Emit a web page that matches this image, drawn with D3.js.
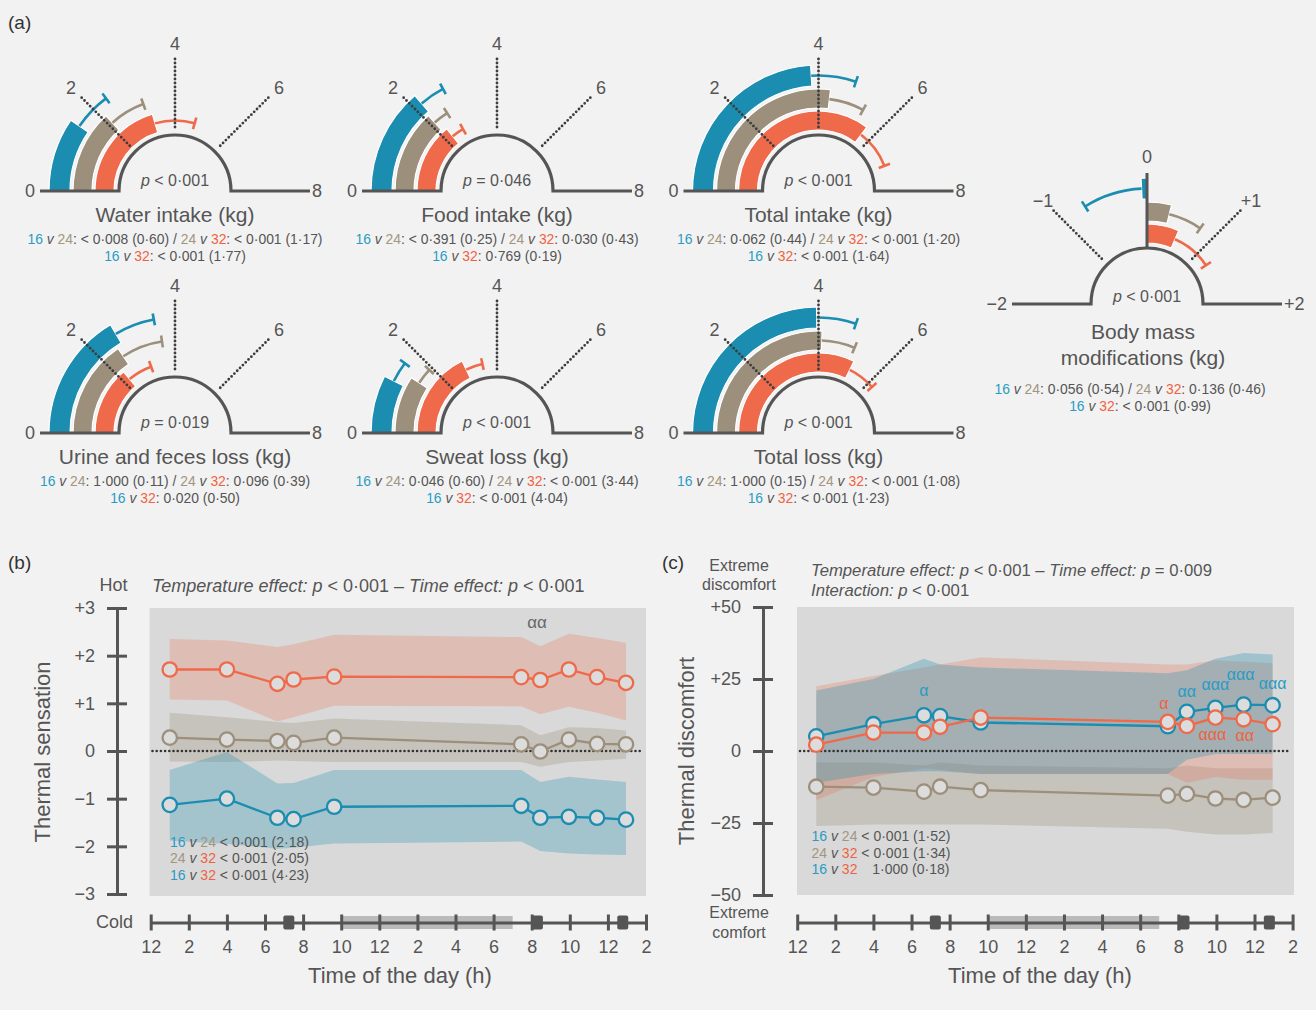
<!DOCTYPE html>
<html><head><meta charset="utf-8">
<script src="https://cdn.jsdelivr.net/npm/d3@7"></script>
<style>
body{margin:0;background:#f2f2f2;}
svg{display:block;font-family:"Liberation Sans",Arial,Helvetica,sans-serif;}
</style></head><body>
<svg id="chart" width="1316" height="1010"></svg>
<script>
// ---------------- DATA ----------------
const gaugeTitles = ["Water intake (kg)","Food intake (kg)","Total intake (kg)","Urine and feces loss (kg)","Sweat loss (kg)","Total loss (kg)"];
const gaugeP = [["<","0·001"],["=","0·046"],["<","0·001"],["=","0·019"],["<","0·001"],["<","0·001"]];
const mean16 = [1.52, 2.19, 3.84, 2.63, 1.19, 3.96];
const sd16   = [0.85, 0.57, 1.00, 0.90, 0.46, 0.88];
const mean24 = [2.11, 2.12, 4.30, 2.49, 1.46, 4.09];
const sd24   = [1.00, 0.43, 0.98, 1.15, 0.45, 0.93];
const mean32 = [3.27, 2.27, 5.65, 2.22, 2.85, 5.17];
const sd32   = [1.45, 0.45, 1.42, 0.90, 0.62, 1.02];
const stat16v24 = ["< 0·008 (0·60)","< 0·391 (0·25)","0·062 (0·44)","1·000 (0·11)","0·046 (0·60)","1·000 (0·15)"];
const stat24v32 = ["< 0·001 (1·17)","0·030 (0·43)","< 0·001 (1·20)","0·096 (0·39)","< 0·001 (3·44)","< 0·001 (1·08)"];
const stat16v32 = ["< 0·001 (1·77)","0·769 (0·19)","< 0·001 (1·64)","0·020 (0·50)","< 0·001 (4·04)","< 0·001 (1·23)"];
const gaugeTicks = [0,2,4,6,8];
const gaugeTickLabels = ["0","2","4","6","8"];

const bodyMean = [-0.06, 0.31, 0.52];
const bodySd   = [0.66, 0.47, 0.74];
const bodyTicks = [-2,-1,0,1,2];
const bodyTickLabels = ["−2","−1","0","+1","+2"];
const bodyStats = ["0·056 (0·54)","0·136 (0·46)","< 0·001 (0·99)"];

const timeH = [1, 4, 6.65, 7.5, 9.63, 19.45, 20.45, 21.95, 23.43, 24.95];
const timeTicks = [0,2,4,6,8,10,12,14,16,18,20,22,24,26];
const timeTickLabels = ["12","2","4","6","8","10","12","2","4","6","8","10","12","2"];
const meals = [7.25, 20.3, 24.78];
const night = [10, 19];

const sens16   = [-1.13,-1.00,-1.40,-1.43,-1.17,-1.15,-1.40,-1.38,-1.40,-1.44];
const sens16lo = [-1.88,-1.95,-2.05,-2.03,-1.94,-1.90,-2.10,-2.15,-2.17,-2.18];
const sens16hi = [-0.40,-0.02,-0.68,-0.67,-0.40,-0.40,-0.65,-0.54,-0.60,-0.65];
const sens24   = [0.28,0.24,0.21,0.17,0.28,0.14,-0.01,0.24,0.15,0.14];
const sens24lo = [-0.22,-0.23,-0.20,-0.21,-0.23,-0.23,-0.33,-0.23,-0.20,-0.16];
const sens24hi = [0.80,0.71,0.61,0.59,0.68,0.54,0.33,0.50,0.48,0.43];
const sens32   = [1.71,1.71,1.41,1.50,1.56,1.55,1.49,1.71,1.55,1.43];
const sens32lo = [1.08,1.06,0.62,0.71,0.95,0.94,0.77,0.93,0.80,0.64];
const sens32hi = [2.35,2.32,2.18,2.24,2.44,2.39,2.20,2.46,2.37,2.27];
const sensTicks = [3,2,1,0,-1,-2,-3];
const sensTickLabels = ["+3","+2","+1","0","−1","−2","−3"];
const sensStats = [["16","24","< 0·001 (2·18)"],["24","32","< 0·001 (2·05)"],["16","32","< 0·001 (4·23)"]];

const disc16   = [5.1,9.3,12.4,12.1,9.9,8.6,13.6,15.0,16.1,15.9];
const disc16lo = [-11,-8,-7,-7,-8,-8,-3,-1,-1,-1];
const disc16hi = [21,25,32,30,29,27,28,32,34,33.5];
const disc24   = [-12.4,-12.7,-14.1,-12.4,-13.6,-15.5,-14.9,-16.5,-17.0,-16.2];
const disc24lo = [-26,-25.5,-25.5,-25.5,-25.5,-27,-28,-29,-29,-28.5];
const disc24hi = [-4,-4,-5,-4,-5,-6,-5,-6,-6,-6];
const disc32   = [2.2,6.4,6.4,8.4,11.6,10.1,8.7,11.6,11.0,9.3];
const disc32lo = [-17,-9,-6,-6.5,-8,-8,-11,-9,-10,-10];
const disc32hi = [22.5,26,29,30,32.5,30,30,31.5,31,30.5];
const discTicks = [50,25,0,-25,-50];
const discTickLabels = ["+50","+25","0","−25","−50"];
const discStats = [["16","24","< 0·001 (1·52)"],["24","32","< 0·001 (1·34)"],["16","32","1·000 (0·18)"]];
const discAlphaBlue = [[2,"α"],[6,"αα"],[7,"ααα"],[8,"ααα"],[9,"ααα"]];
const discAlphaOrange = [[5,"α"]];
const discAlphaOrangeBelow = [[7,"ααα"],[8,"αα"]];

// ---------------- STYLE ----------------
const COL = {b:"#1a8db0", t:"#9c8f7b", o:"#ee6a4b"};
const TXT = {b:"#2a9bc3", t:"#a3957f", o:"#f0623f", g:"#555555"};
const FONT = '"Liberation Sans",Arial,Helvetica,sans-serif';
const svg = d3.select("#chart");
svg.append("rect").attr("width",1316).attr("height",1010).attr("fill","#f2f2f2");

function richText(g, x, y, parts, size, anchor){
  const t = g.append("text").attr("x",x).attr("y",y).attr("font-size",size)
    .attr("text-anchor",anchor||"middle").attr("fill",TXT.g).style("white-space","pre");
  parts.forEach(p=>{
    const s = t.append("tspan").text(p[0]);
    if(p[1]) s.attr("fill",p[1]);
    if(p[2]) s.attr("font-style","italic");
    if(p[3]) s.attr("dx",p[3]);
  });
  return t;
}
function pairParts(a,b){
  const c = {"16":TXT.b,"24":TXT.t,"32":TXT.o};
  return [[a,c[a]],[" "],["v",null,1],[" "],[b,c[b]]];
}

// ---------------- GAUGES ----------------
const bandR = [[105,126],[83,102],[61,80]];
const gaugeCols = [COL.b, COL.t, COL.o];
function gauge(cx, cy, domain, base, means, sds, ticks, labels, solidTick){
  const g = svg.append("g").attr("transform",`translate(${cx},${cy})`);
  const a = d3.scaleLinear().domain(domain).range([-Math.PI/2, Math.PI/2]);
  const arc = d3.arc();
  means.forEach((m,i)=>{
    const [r0,r1] = bandR[i], rm = (r0+r1)/2;
    g.append("path").attr("d",arc({innerRadius:r0,outerRadius:r1,startAngle:a(base),endAngle:a(m)}))
      .attr("fill",gaugeCols[i]).attr("stroke","#fff").attr("stroke-width",1.2);
    const e = m >= base ? m + sds[i] : m - sds[i];
    g.append("path").attr("d",arc({innerRadius:rm-1.3,outerRadius:rm+1.3,startAngle:a(m),endAngle:a(e)}))
      .attr("fill",gaugeCols[i]);
    const ang = a(e);
    g.append("line").attr("x1",(rm-6)*Math.sin(ang)).attr("y1",-(rm-6)*Math.cos(ang))
      .attr("x2",(rm+6)*Math.sin(ang)).attr("y2",-(rm+6)*Math.cos(ang))
      .attr("stroke",gaugeCols[i]).attr("stroke-width",2.6);
  });
  ticks.forEach((v,k)=>{
    const ang = a(v);
    const first = v===domain[0], last = v===domain[1];
    if(!first && !last){
      const solid = v===solidTick;
      const r0 = solid?57:64, r1 = solid?131:133;
      g.append("line").attr("x1",r0*Math.sin(ang)).attr("y1",-r0*Math.cos(ang))
        .attr("x2",r1*Math.sin(ang)).attr("y2",-r1*Math.cos(ang))
        .attr("stroke",solid?"#555":"#3d3d3d").attr("stroke-width",solid?3:2.8)
        .attr("stroke-dasharray",solid?null:"0,4").attr("stroke-linecap",solid?"butt":"round");
      const r = 147;
      g.append("text").attr("x",r*Math.sin(ang)).attr("y",-r*Math.cos(ang)).attr("dy","0.36em")
        .attr("text-anchor","middle").attr("font-size",18).attr("fill",TXT.g).text(labels[k]);
    } else {
      g.append("text").attr("x",first?-140:137).attr("y",0).attr("dy","0.36em")
        .attr("text-anchor",first?"end":"start").attr("font-size",18).attr("fill",TXT.g).text(labels[k]);
    }
  });
  g.append("path").attr("d","M-135,0H-56A56,56 0 0 1 56,0H135")
    .attr("fill","none").attr("stroke","#555").attr("stroke-width",3.2);
  return g;
}

const gaugePos = [[175,191],[497,191],[818.5,191],[175,433],[497,433],[818.5,433]];
gaugeTitles.forEach((title,i)=>{
  const [cx,cy] = gaugePos[i];
  gauge(cx,cy,[0,8],0,[mean16[i],mean24[i],mean32[i]],[sd16[i],sd24[i],sd32[i]],gaugeTicks,gaugeTickLabels,null);
  richText(svg,cx,cy-5,[["p",null,1],[" "+gaugeP[i][0]+" "+gaugeP[i][1]]],16);
  svg.append("text").attr("x",cx).attr("y",cy+31).attr("text-anchor","middle").attr("font-size",21)
    .attr("fill",TXT.g).text(title);
  richText(svg,cx,cy+53,[...pairParts("16","24"),[": "+stat16v24[i]+" / "],...pairParts("24","32"),[": "+stat24v32[i]]],13.9);
  richText(svg,cx,cy+70,[...pairParts("16","32"),[": "+stat16v32[i]]],13.9);
});
// body mass
gauge(1147,304,[-2,2],0,bodyMean,bodySd,bodyTicks,bodyTickLabels,0);
richText(svg,1147,302,[["p",null,1],[" < 0·001"]],16);
svg.append("text").attr("x",1143).attr("y",339).attr("text-anchor","middle").attr("font-size",21).attr("fill",TXT.g).text("Body mass");
svg.append("text").attr("x",1143).attr("y",364.5).attr("text-anchor","middle").attr("font-size",21).attr("fill",TXT.g).text("modifications (kg)");
richText(svg,1130,394,[...pairParts("16","24"),[": "+bodyStats[0]+" / "],...pairParts("24","32"),[": "+bodyStats[1]]],13.9);
richText(svg,1140,411,[...pairParts("16","32"),[": "+bodyStats[2]]],13.9);

// panel labels
[["(a)",8,29],["(b)",8,569],["(c)",662,569]].forEach(d=>{
  svg.append("text").attr("x",d[1]).attr("y",d[2]).attr("font-size",19).attr("fill","#333").text(d[0]);
});

// ---------------- LINE CHARTS ----------------
function lineChart(cfg){
  const x = d3.scaleLinear().domain([0,26]).range(cfg.xr);
  const y = d3.scaleLinear().domain(cfg.yd).range(cfg.yr);
  const g = svg.append("g");
  g.append("rect").attr("x",cfg.rect[0]).attr("y",cfg.rect[1]).attr("width",cfg.rect[2]).attr("height",cfg.rect[3]).attr("fill","#d9d9d9");
  const area = d3.area().x((d,i)=>x(timeH[i])).y0(d=>y(d[0])).y1(d=>y(d[1]));
  cfg.bands.forEach(b=>{
    g.append("path").attr("d",area(b.lo.map((v,i)=>[v,b.hi[i]]))).attr("fill",b.col).attr("fill-opacity",b.op);
  });
  g.append("line").attr("x1",cfg.rect[0]+3).attr("x2",cfg.rect[0]+cfg.rect[2]-3).attr("y1",y(0)).attr("y2",y(0))
    .attr("stroke","#333").attr("stroke-width",2.6).attr("stroke-dasharray","0,4.2").attr("stroke-linecap","round");
  const line = d3.line().x((d,i)=>x(timeH[i])).y(d=>y(d));
  cfg.series.forEach(s=>{
    g.append("path").attr("d",line(s.v)).attr("fill","none").attr("stroke",s.col).attr("stroke-width",2.3);
    g.selectAll(null).data(s.v).join("circle").attr("cx",(d,i)=>x(timeH[i])).attr("cy",d=>y(d)).attr("r",7.2)
      .attr("fill","#dcdcdc").attr("stroke",s.col).attr("stroke-width",2.3);
  });
  // y axis
  const ya = svg.append("g").attr("transform",`translate(${cfg.yx},0)`)
    .call(d3.axisLeft(y).tickValues(cfg.yticks).tickFormat((d,i)=>cfg.ylabels[i]).tickSize(10).tickSizeOuter(0).tickPadding(12));
  ya.attr("font-size",18).attr("font-family",FONT);
  ya.select(".domain").attr("stroke","#555").attr("stroke-width",3);
  ya.selectAll(".tick line").attr("x1",10).attr("stroke","#555").attr("stroke-width",3);
  ya.selectAll(".tick text").attr("fill",TXT.g);
  // x axis
  const xg = svg.append("g").attr("transform","translate(0,922.5)");
  xg.append("rect").attr("x",x(night[0])).attr("y",-6.5).attr("width",x(night[1])-x(night[0])).attr("height",13).attr("fill","#bababa");
  const xa = xg.append("g").call(d3.axisBottom(x).tickValues(timeTicks).tickFormat((d,i)=>timeTickLabels[i]).tickSize(8).tickSizeOuter(0).tickPadding(10));
  xa.attr("font-size",18).attr("font-family",FONT);
  xa.select(".domain").attr("stroke","#555").attr("stroke-width",3);
  xa.selectAll(".tick line").attr("y1",-8).attr("stroke","#555").attr("stroke-width",3);
  xa.selectAll(".tick text").attr("fill",TXT.g);
  xg.selectAll(null).data(meals).join("rect").attr("x",d=>x(d)-5.5).attr("y",-7).attr("width",11).attr("height",14).attr("rx",2).attr("fill","#555");
  svg.append("text").attr("x",cfg.xtitle[0]).attr("y",cfg.xtitle[1]).attr("text-anchor","middle").attr("font-size",22).attr("fill",TXT.g).text("Time of the day (h)");
  svg.append("text").attr("transform",`translate(${cfg.ytitle[0]},${cfg.ytitle[1]}) rotate(-90)`).attr("dy","0.36em")
    .attr("text-anchor","middle").attr("font-size",22).attr("fill",TXT.g).text(cfg.ytext);
  // stats
  cfg.stats.forEach((s,i)=>{
    const pad = s[2].startsWith("<") ? 0 : 11;
    richText(svg,cfg.statX,cfg.statY+i*16.7,[...pairParts(s[0],s[1]),[" "+s[2],null,0,pad]],14,"start");
  });
  return {x,y};
}

const b = lineChart({
  xr:[150.7,646], yd:[-3,3], yr:[894,608], rect:[149.5,608,496.5,288], yx:117,
  yticks:sensTicks, ylabels:sensTickLabels,
  bands:[{lo:sens24lo,hi:sens24hi,col:COL.t,op:0.3},{lo:sens32lo,hi:sens32hi,col:COL.o,op:0.25},{lo:sens16lo,hi:sens16hi,col:COL.b,op:0.28}],
  series:[{v:sens24,col:COL.t},{v:sens32,col:COL.o},{v:sens16,col:COL.b}],
  xtitle:[400,983], ytitle:[42,752], ytext:"Thermal sensation",
  stats:sensStats, statX:170, statY:846.5
});
richText(svg,152,592,[["Temperature effect: ",null,1],["p",null,1],[" < 0·001 – "],["Time effect: ",null,1],["p",null,1],[" < 0·001"]],18,"start");
svg.append("text").attr("x",537).attr("y",628).attr("text-anchor","middle").attr("font-size",17).attr("fill","#666").text("αα");
svg.append("text").attr("x",113.5).attr("y",591).attr("text-anchor","middle").attr("font-size",18).attr("fill",TXT.g).text("Hot");
svg.append("text").attr("x",114.5).attr("y",928).attr("text-anchor","middle").attr("font-size",18).attr("fill",TXT.g).text("Cold");

const c = lineChart({
  xr:[797.2,1292.6], yd:[-50,50], yr:[895,607], rect:[797,607,497,288], yx:763,
  yticks:discTicks, ylabels:discTickLabels,
  bands:[{lo:disc24lo,hi:disc24hi,col:COL.t,op:0.3},{lo:disc32lo,hi:disc32hi,col:COL.o,op:0.25},{lo:disc16lo,hi:disc16hi,col:COL.b,op:0.3}],
  series:[{v:disc24,col:COL.t},{v:disc16,col:COL.b},{v:disc32,col:COL.o}],
  xtitle:[1040,983], ytitle:[686,751], ytext:"Thermal discomfort",
  stats:discStats, statX:811.5, statY:841
});
richText(svg,811,576,[["Temperature effect: ",null,1],["p",null,1],[" < 0·001 – "],["Time effect: ",null,1],["p",null,1],[" = 0·009"]],16.7,"start");
richText(svg,811,596,[["Interaction: ",null,1],["p",null,1],[" < 0·001"]],16.7,"start");
[["Extreme",570.5],["discomfort",590],["Extreme",918],["comfort",938]].forEach(d=>{
  svg.append("text").attr("x",739).attr("y",d[1]).attr("text-anchor","middle").attr("font-size",16).attr("fill",TXT.g).text(d[0]);
});
// alpha markers in (c)
const alphaDy = {"2":-24,"6":-20,"7":-23,"8":-30,"9":-21};
discAlphaBlue.forEach(([i,l])=>{
  svg.append("text").attr("x",c.x(timeH[i])+(i===8?-3:0)).attr("y",c.y(disc16[i])+alphaDy[i]+5).attr("text-anchor","middle")
    .attr("font-size",16).attr("fill",TXT.b).text(l);
});
discAlphaOrange.forEach(([i,l])=>{
  svg.append("text").attr("x",c.x(timeH[i])-4).attr("y",c.y(disc32[i])-13).attr("text-anchor","middle")
    .attr("font-size",16).attr("fill",TXT.o).text(l);
});
discAlphaOrangeBelow.forEach(([i,l])=>{
  svg.append("text").attr("x",c.x(timeH[i])+ (i===7?-3:1)).attr("y",c.y(disc32[i])+22).attr("text-anchor","middle")
    .attr("font-size",16).attr("fill",TXT.o).text(l);
});
</script>
</body></html>
